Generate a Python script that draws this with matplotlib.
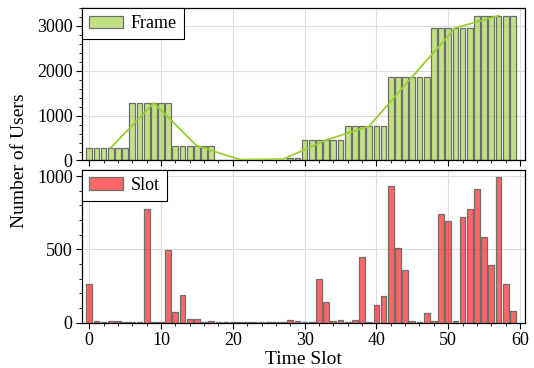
import matplotlib
matplotlib.use("Agg")
import matplotlib.pyplot as plt
from matplotlib.ticker import MultipleLocator, AutoMinorLocator
from matplotlib.colors import to_rgba

plt.rcParams['font.family'] = 'serif'
plt.rcParams['font.serif'] = ['Liberation Serif', 'DejaVu Serif']
plt.rcParams['mathtext.fontset'] = 'stix'

# ---- data ----
slots = list(range(60))

frame_users = [285, 285, 285, 285, 285, 285,
               1280, 1280, 1280, 1280, 1280, 1280,
               325, 325, 325, 325, 325, 325,
               20, 20, 20, 20, 20, 20,
               20, 20, 20, 20, 45, 45,
               455, 455, 455, 455, 455, 455,
               765, 765, 765, 765, 765, 765,
               1870, 1870, 1870, 1870, 1870, 1870,
               2955, 2955, 2955, 2955, 2955, 2955,
               3230, 3230, 3230, 3230, 3230, 3230]

frame_line_x = [3, 9, 15, 21, 27, 33, 39, 45, 51, 57]
frame_line_y = [285, 1280, 325, 20, 30, 455, 765, 1870, 2955, 3230]

slot_users = [262, 10, 2, 8, 8, 4, 3, 2, 778, 2,
              6, 494, 75, 189, 25, 25, 4, 10, 3, 6,
              6, 5, 3, 4, 3, 5, 4, 3, 15, 10,
              2, 2, 300, 141, 8, 14, 3, 15, 446, 5,
              120, 182, 931, 512, 357, 10, 3, 64, 10, 742,
              694, 10, 721, 778, 913, 587, 392, 994, 262, 78]

x_ticks = [0, 10, 20, 30, 40, 50, 60]
top_yticks = [0, 1000, 2000, 3000]
bot_yticks = [0, 500, 1000]

# ---- figure ----
fig = plt.figure(figsize=(5.34, 3.68), dpi=100)
ax1 = fig.add_axes([0.1536, 0.5639, 0.8296, 0.4144])
ax2 = fig.add_axes([0.1536, 0.1236, 0.8296, 0.4158])

edge = '#6e6e6e'
ax1.bar(slots, frame_users, width=0.8, facecolor=to_rgba('yellowgreen', 0.6),
        edgecolor=edge, linewidth=0.9, label='Frame', zorder=2)
ax1.plot(frame_line_x, frame_line_y, color='yellowgreen', linewidth=1.3, zorder=3)

ax2.bar(slots, slot_users, width=0.8, facecolor=to_rgba('red', 0.6),
        edgecolor=edge, linewidth=0.9, label='Slot', zorder=2)

for ax in (ax1, ax2):
    ax.set_xlim(-1, 60.7)
    ax.set_xticks(x_ticks)
    ax.xaxis.set_minor_locator(MultipleLocator(2))
    ax.yaxis.set_minor_locator(AutoMinorLocator(5))
    ax.grid(True, which='major', color='#dddddd', linewidth=0.8)
    ax.set_axisbelow(True)
    ax.tick_params(axis='both', which='major', labelsize=13, length=4.3, width=0.8, pad=2.4)
    ax.tick_params(axis='both', which='minor', length=2.2, width=0.6)
    for s in ax.spines.values():
        s.set_linewidth(0.9)
    leg = ax.legend(loc='upper left', borderaxespad=0, fancybox=False,
                    edgecolor='black', framealpha=1, fontsize=13,
                    handletextpad=0.45, borderpad=0.4, handlelength=1.85)
    leg.get_frame().set_linewidth(0.8)

ax1.set_ylim(0, 3400)
ax1.set_yticks(top_yticks)
ax1.tick_params(axis='x', labelbottom=False)

ax2.set_ylim(0, 1045)
ax2.set_yticks(bot_yticks)
ax2.set_xlabel('Time Slot', fontsize=14, labelpad=1.5)

fig.text(0.037, 0.5625, 'Number of Users', rotation=90, fontsize=14,
         ha='center', va='center')

fig.savefig('out.png', dpi=100)
